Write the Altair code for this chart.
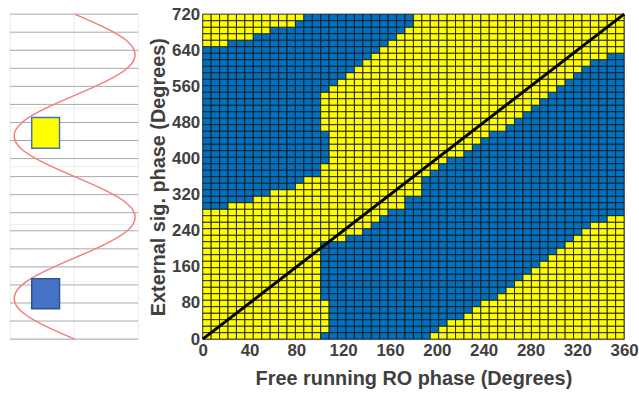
import altair as alt
import pandas as pd

# ---------------- data ----------------
N_COLS = 50            # columns of the free-running phase grid (0..360)
N_ROWS = 50            # rows of the external phase grid (0..720)
X_MAX = 360
Y_MAX = 720

# blue (second state) cell ranges per row (row 0 = bottom), column indices inclusive, -1 = none
A_LO = [-1] * 20 + [0] * 25 + [3, 6, 8, 11, 12]
A_HI = [-1] * 20 + [2, 5, 7, 10, 11, 13, 13, 14, 14, 14, 14, 14, 13, 13, 13, 13, 13, 13,
                    14, 15, 16, 17, 18, 19, 20, 21, 22, 23, 24, 24]
B_LO = [14, 15, 15, 15, 15, 15, 14, 14, 14, 14, 14, 14, 14, 14, 14,
        17, 19, 20, 21, 22, 24, 24, 26, 26, 26, 27, 28, 29, 31, 32, 33, 34,
        36, 37, 38, 39, 40, 41, 42, 43, 44, 45, 46, 48] + [-1] * 6
B_HI = [26, 27, 28, 30, 31, 32, 34, 35, 36, 37, 38, 39, 40, 41, 42, 43, 44, 45, 47] + [49] * 25 + [-1] * 6

STATES = ["yellow", "blue"]
STATE_COLORS = ["#FFFF00", "#0070C0"]

X_TICKS = [0, 40, 80, 120, 160, 200, 240, 280, 320, 360]
Y_TICKS = [0, 80, 160, 240, 320, 400, 480, 560, 640, 720]

DIAG_X = [0, 360]
DIAG_Y = [0, 720]

# left panel: external signal drawn vertically against its phase
WAVE_PHASE = [0, 30, 60, 90, 120, 150, 180, 210, 240, 270, 300, 330, 360,
              390, 420, 450, 480, 510, 540, 570, 600, 630, 660, 690, 720]
WAVE_VALUE = [0, -0.5, -0.87, -1, -0.87, -0.5, 0, 0.5, 0.87, 1, 0.87, 0.5, 0,
              -0.5, -0.87, -1, -0.87, -0.5, 0, 0.5, 0.87, 1, 0.87, 0.5, 0]

SQ_NAME = ["yellow", "blue"]
SQ_X0 = [-0.71, -0.71]
SQ_X1 = [-0.25, -0.25]
SQ_Y0 = [423, 67]
SQ_Y1 = [491, 134]
SQ_FILL = ["#FFFF00", "#4472C4"]
SQ_STROKE = ["#4A6FA5", "#2F528F"]

MAJOR_LINES = list(range(0, 721, 40))

# ---------------- tables ----------------
dx = X_MAX / N_COLS
dy = Y_MAX / N_ROWS
cells = []
for r in range(N_ROWS):
    for c in range(N_COLS):
        in_a = A_LO[r] >= 0 and A_LO[r] <= c <= A_HI[r]
        in_b = B_LO[r] >= 0 and B_LO[r] <= c <= B_HI[r]
        cells.append({"x0": c * dx, "x1": (c + 1) * dx,
                      "y0": r * dy, "y1": (r + 1) * dy,
                      "state": "blue" if (in_a or in_b) else "yellow"})
cells = pd.DataFrame(cells)
diag = pd.DataFrame({"x": DIAG_X, "y": DIAG_Y})
wave = pd.DataFrame({"phase": WAVE_PHASE, "w": WAVE_VALUE})
squares = pd.DataFrame({"name": SQ_NAME, "x0": SQ_X0, "x1": SQ_X1, "y0": SQ_Y0, "y1": SQ_Y1,
                        "fill": SQ_FILL, "stroke": SQ_STROKE})
major = pd.DataFrame({"phase": MAJOR_LINES})

FONT = "Liberation Sans"
TXT = "#404040"

# ---------------- right panel ----------------
xs = alt.Scale(domain=[0, X_MAX], nice=False, zero=False)
ys = alt.Scale(domain=[0, Y_MAX], nice=False, zero=False)

x_axis = alt.Axis(
    values=X_TICKS, title="Free running RO phase (Degrees)", grid=False, ticks=False,
    domain=False, labelPadding=4, labelFont=FONT, labelFontSize=17, labelFontWeight="bold",
    labelColor=TXT, titleFont=FONT, titleFontSize=20, titleFontWeight="bold",
    titleColor=TXT, titlePadding=10, labelOverlap=False, labelFlush=False)
y_axis = alt.Axis(
    values=Y_TICKS, title="External sig. phase (Degrees)", grid=False, ticks=False,
    domain=False, labelPadding=3, labelFont=FONT, labelFontSize=17, labelFontWeight="bold",
    labelColor=TXT, titleFont=FONT, titleFontSize=20, titleFontWeight="bold",
    titleColor=TXT, titlePadding=3, labelOverlap=False, labelFlush=False)

heat = alt.Chart(cells).mark_rect(stroke="#1c1c1c", strokeWidth=0.9).encode(
    x=alt.X("x0:Q", scale=xs, axis=x_axis),
    x2="x1:Q",
    y=alt.Y("y0:Q", scale=ys, axis=y_axis),
    y2="y1:Q",
    color=alt.Color("state:N", scale=alt.Scale(domain=STATES, range=STATE_COLORS), legend=None),
)
line = alt.Chart(diag).mark_line(color="black", strokeWidth=3).encode(
    x=alt.X("x:Q", scale=xs, axis=x_axis), y=alt.Y("y:Q", scale=ys, axis=y_axis))

right = alt.layer(heat, line).properties(width=424, height=327, view={"stroke": "#9a9a9a"})

# ---------------- left panel ----------------
wx = alt.Scale(domain=[-1.07, 1.05], nice=False, zero=False)
wy = alt.Scale(domain=[0, Y_MAX], nice=False, zero=False)
minor_x = [round(-1.07 + 0.066 * i, 3) for i in range(33)]
minor_y = list(range(0, 721, 8))

wave_line = alt.Chart(wave).mark_line(color="#F27E7C", strokeWidth=1.5, interpolate="natural").encode(
    x=alt.X("w:Q", scale=wx, axis=alt.Axis(values=minor_x, grid=True, gridColor="#ededed",
                                             labels=False, ticks=False,
                                             domain=False, title=None)),
    y=alt.Y("phase:Q", scale=wy, axis=alt.Axis(values=minor_y, grid=True, gridColor="#ededed",
                                                labels=False, ticks=False,
                                                domain=False, title=None)),
    order="phase:Q",
)
major_rules = alt.Chart(major).mark_rule(color="#a8a8a8", strokeWidth=1).encode(
    y=alt.Y("phase:Q", scale=wy), x=alt.value(0), x2=alt.value(129))
sq = alt.Chart(squares).mark_rect(strokeWidth=1.5).encode(
    x=alt.X("x0:Q", scale=wx), x2="x1:Q",
    y=alt.Y("y0:Q", scale=wy), y2="y1:Q",
    fill=alt.Fill("fill:N", scale=None),
    stroke=alt.Stroke("stroke:N", scale=None),
)
left = alt.layer(major_rules, wave_line, sq).properties(width=129, height=327, view={"stroke": None})

chart = alt.hconcat(left, right, spacing=9).properties(
    padding={"left": 9, "top": 3, "right": 0, "bottom": 0},
    background="white",
)

chart.save("out.html", embed_options={"renderer": "svg", "actions": False})
